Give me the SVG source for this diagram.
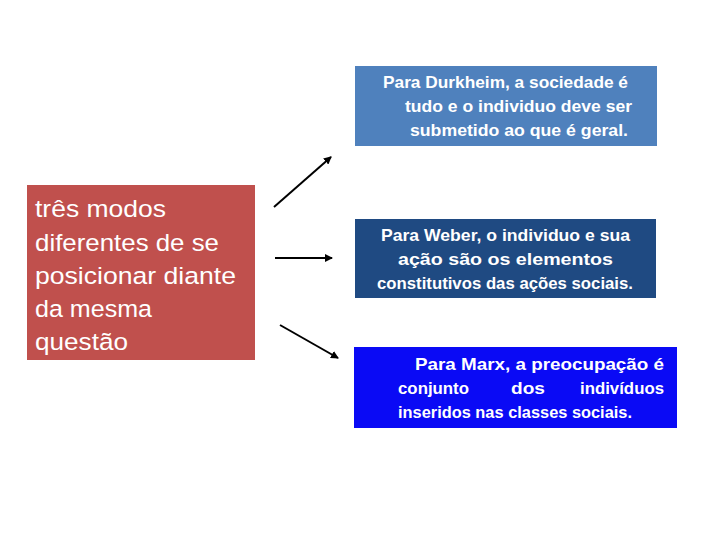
<svg xmlns="http://www.w3.org/2000/svg" width="720" height="540" viewBox="0 0 720 540">
<style>
.b{font-family:"Liberation Sans",Arial,sans-serif;font-weight:bold;font-size:16.5px;fill:#fff}
.r{font-family:"Liberation Sans",Arial,sans-serif;font-size:24.5px;fill:#fff}
.c{stroke:#000;stroke-width:2;fill:none;marker-end:url(#ah)}
</style>
<defs>
<marker id="ah" markerWidth="8" markerHeight="8" refX="7" refY="4" orient="auto" markerUnits="userSpaceOnUse">
<path d="M0,0 L8,4 L0,8 Z" fill="#000"/>
</marker>
</defs>
<rect width="720" height="540" fill="#fff"/>
<g id="main">
<rect x="27" y="185" width="228" height="175" fill="#C0504D"/>
<text class="r" x="35" y="217" textLength="131" lengthAdjust="spacingAndGlyphs">três modos</text>
<text class="r" x="35" y="251" textLength="184" lengthAdjust="spacingAndGlyphs">diferentes de se</text>
<text class="r" x="35" y="284" textLength="201" lengthAdjust="spacingAndGlyphs">posicionar diante</text>
<text class="r" x="35" y="317" textLength="117" lengthAdjust="spacingAndGlyphs">da mesma</text>
<text class="r" x="35" y="350" textLength="93" lengthAdjust="spacingAndGlyphs">questão</text>
</g>
<g id="durkheim">
<rect x="355" y="66" width="302" height="80" fill="#4F81BD"/>
<text class="b" x="383" y="88" textLength="245" lengthAdjust="spacingAndGlyphs">Para Durkheim, a sociedade é</text>
<text class="b" x="405" y="112" textLength="227" lengthAdjust="spacingAndGlyphs">tudo e o individuo deve ser</text>
<text class="b" x="410" y="136" textLength="218" lengthAdjust="spacingAndGlyphs">submetido ao que é geral.</text>
</g>
<g id="weber">
<rect x="355" y="219" width="301" height="79" fill="#1F4A82"/>
<text class="b" x="381" y="241" textLength="249" lengthAdjust="spacingAndGlyphs">Para Weber, o individuo e sua</text>
<text class="b" x="398" y="265" textLength="215" lengthAdjust="spacingAndGlyphs">ação são os elementos</text>
<text class="b" x="377" y="289" textLength="256" lengthAdjust="spacingAndGlyphs">constitutivos das ações sociais.</text>
</g>
<g id="marx">
<rect x="354" y="347" width="323" height="81" fill="#0A0AF5"/>
<text class="b" x="415" y="370" textLength="249" lengthAdjust="spacingAndGlyphs">Para Marx, a preocupação é</text>
<text class="b" x="398" y="394" textLength="71" lengthAdjust="spacingAndGlyphs">conjunto</text>
<text class="b" x="511" y="394" textLength="34" lengthAdjust="spacingAndGlyphs">dos</text>
<text class="b" x="580" y="394" textLength="84" lengthAdjust="spacingAndGlyphs">indivíduos</text>
<text class="b" x="398" y="418" textLength="234" lengthAdjust="spacingAndGlyphs">inseridos nas classes sociais.</text>
</g>
<g id="connectors">
<line class="c" x1="274" y1="207" x2="331" y2="157"/>
<line class="c" x1="275" y1="258" x2="332" y2="258"/>
<line class="c" x1="280" y1="325" x2="338" y2="358"/>
</g>
</svg>
